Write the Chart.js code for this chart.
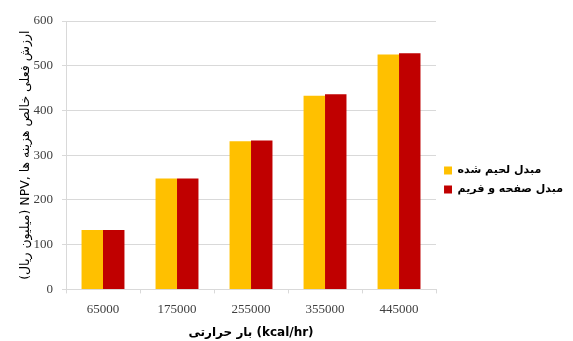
<!DOCTYPE html>
<html>
<head>
<meta charset="utf-8">
<script src="https://cdn.jsdelivr.net/npm/chart.js@4"></script>
<style>
  html, body { margin: 0; padding: 0; background: #fff; }
  #wrap { width: 573px; height: 341px; }
</style>
</head>
<body>
<div id="wrap"><canvas id="npv-chart"></canvas></div>
<script>
// heat duty categories (kcal/hr)
const heatLoads = ['65000', '175000', '255000', '355000', '445000'];
// NPV of costs, million rial
const brazedValues     = [133, 248, 331, 433, 525];
const plateFrameValues = [133, 248, 333, 436, 528];
const yMax  = 600;
const yStep = 100;

const seriesNames = ['مبدل لحیم شده', 'مبدل صفحه و فریم'];
const yTitle = '\u2067ارزش فعلی خالص هزینه ها ,NPV (میلیون ریال)\u2069';
const xTitle = 'بار حرارتی (kcal/hr)';

const gridGray = '#d9d9d9';
const tickFont = { family: '"Liberation Serif", "Times New Roman", serif', size: 13 };

new Chart(document.getElementById('npv-chart'), {
  type: 'bar',
  data: {
    labels: heatLoads,
    datasets: [
      {
        label: seriesNames[0],
        data: brazedValues,
        backgroundColor: '#ffc000',
        categoryPercentage: 0.58,
        barPercentage: 1,
      },
      {
        label: seriesNames[1],
        data: plateFrameValues,
        backgroundColor: '#c00000',
        categoryPercentage: 0.58,
        barPercentage: 1,
      },
    ],
  },
  options: {
    responsive: true,
    maintainAspectRatio: false,
    animation: false,
    layout: { padding: { top: 21, right: 0, bottom: 2, left: 18 } },
    plugins: {
      tooltip: { enabled: false },
      legend: {
        position: 'right',
        labels: {
          boxWidth: 8,
          boxHeight: 8,
          padding: 8,
          color: '#000',
          font: { family: '"DejaVu Sans", sans-serif', size: 11, weight: 'bold' },
        },
      },
    },
    scales: {
      x: {
        grid: {
          offset: true,
          drawOnChartArea: false,
          tickLength: 4,
          color: gridGray,
        },
        border: { color: gridGray },
        ticks: { color: '#404040', font: tickFont, padding: 8 },
        title: {
          display: true,
          text: xTitle,
          color: '#000',
          font: { family: '"DejaVu Sans", sans-serif', size: 12, weight: 'bold', lineHeight: 1 },
          padding: { top: 2, bottom: 0 },
        },
      },
      y: {
        min: 0,
        max: yMax,
        grid: { color: gridGray, tickLength: 4 },
        border: { color: gridGray },
        ticks: { stepSize: yStep, color: '#404040', font: tickFont, padding: 9 },
        title: {
          display: true,
          text: yTitle,
          color: '#000',
          font: { family: '"DejaVu Sans", sans-serif', size: 12.5 },
          padding: { top: 0, bottom: 3 },
        },
        // title + labels + ticks take a fixed strip on the left
        afterFit: (scale) => { scale.width = 48; },
      },
    },
  },
});
</script>
</body>
</html>
